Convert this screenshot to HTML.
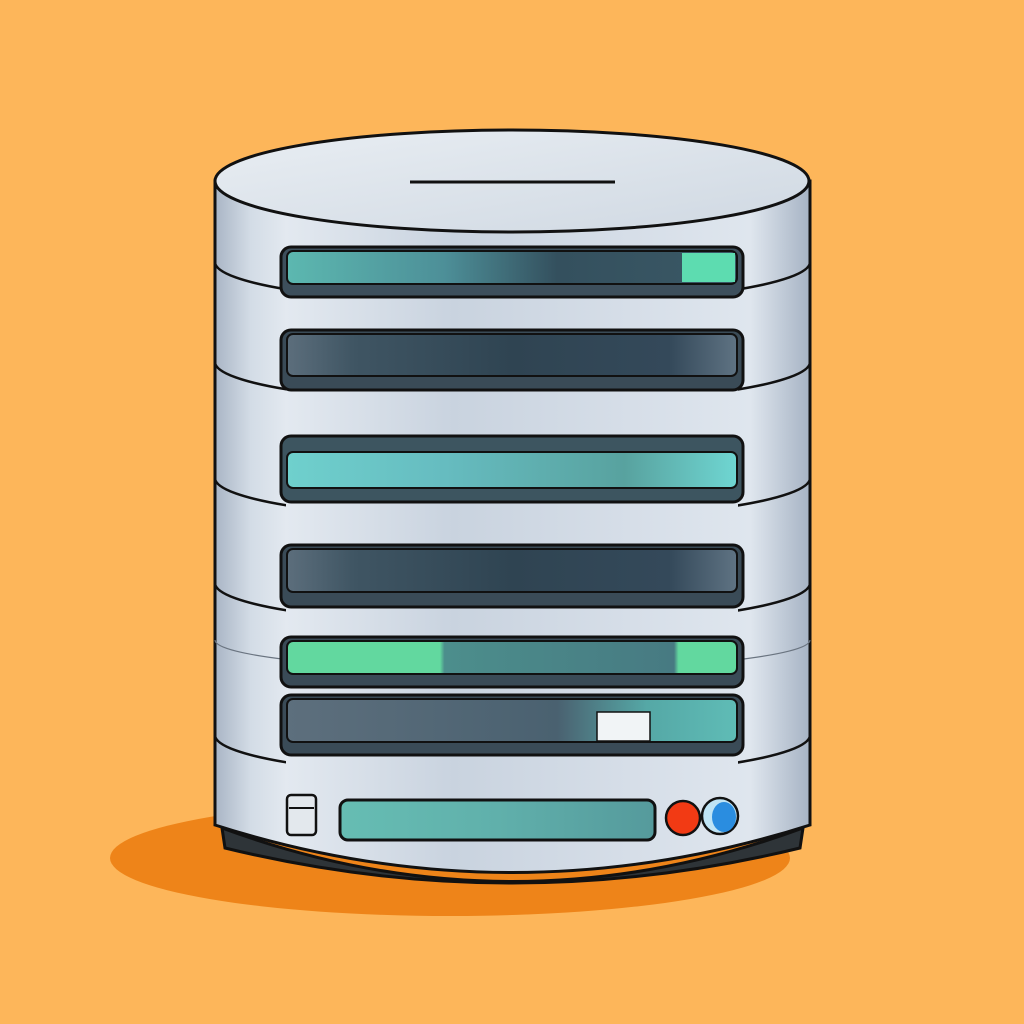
<!DOCTYPE html>
<html><head><meta charset="utf-8"><style>html,body{margin:0;padding:0;background:#FDB65A}svg{display:block}</style></head>
<body>
<svg width="1024" height="1024" viewBox="0 0 1024 1024" xmlns="http://www.w3.org/2000/svg">
<defs>
<linearGradient id="body" x1="0" x2="1" y1="0" y2="0">
<stop offset="0" stop-color="#a9b5c5"/><stop offset="0.06" stop-color="#d3dce6"/><stop offset="0.12" stop-color="#e3e9f0"/>
<stop offset="0.4" stop-color="#c9d3df"/><stop offset="0.7" stop-color="#d6dee8"/><stop offset="0.9" stop-color="#dfe6ee"/><stop offset="1" stop-color="#a6b3c4"/>
</linearGradient>
<linearGradient id="top" x1="0" x2="1" y1="0" y2="1"><stop offset="0" stop-color="#e9eef3"/><stop offset="1" stop-color="#cfd8e2"/></linearGradient>
<linearGradient id="teal1" x1="0" x2="1"><stop offset="0" stop-color="#5cb8b0"/><stop offset="0.35" stop-color="#4d8f98"/><stop offset="0.6" stop-color="#34505e"/><stop offset="1" stop-color="#3a5865"/></linearGradient>
<linearGradient id="dark" x1="0" x2="1"><stop offset="0" stop-color="#5c6e7c"/><stop offset="0.15" stop-color="#3f5563"/><stop offset="0.5" stop-color="#2f4452"/><stop offset="0.85" stop-color="#34495a"/><stop offset="1" stop-color="#5f7383"/></linearGradient>
<linearGradient id="teal3" x1="0" x2="1"><stop offset="0" stop-color="#6fd0cd"/><stop offset="0.35" stop-color="#66bcc0"/><stop offset="0.75" stop-color="#58a29f"/><stop offset="1" stop-color="#6fd6d2"/></linearGradient>
<linearGradient id="green5" x1="0" x2="1"><stop offset="0" stop-color="#62d89f"/><stop offset="0.34" stop-color="#62d89f"/><stop offset="0.35" stop-color="#4c8e8c"/><stop offset="0.86" stop-color="#477a82"/><stop offset="0.87" stop-color="#62d89f"/><stop offset="1" stop-color="#62d89f"/></linearGradient>
<linearGradient id="dark6" x1="0" x2="1"><stop offset="0" stop-color="#5d6f7d"/><stop offset="0.6" stop-color="#4a6170"/><stop offset="0.8" stop-color="#55a8a6"/><stop offset="1" stop-color="#5fbcb6"/></linearGradient>
<linearGradient id="bar" x1="0" x2="1"><stop offset="0" stop-color="#66bdb3"/><stop offset="0.5" stop-color="#60b0ab"/><stop offset="1" stop-color="#559a9c"/></linearGradient>
<clipPath id="sides"><rect x="0" y="0" width="286" height="1024"/><rect x="738" y="0" width="300" height="1024"/></clipPath>
</defs>
<rect width="1024" height="1024" fill="#FDB65A"/>
<ellipse cx="450" cy="858" rx="340" ry="58" fill="#EE8419"/>
<!-- base -->
<path d="M222,828 Q512,935 803,828 L800,848 Q512,918 225,848 Z" fill="#2e3438" stroke="#111" stroke-width="3"/>
<!-- body -->
<path d="M215,181 L215,825 Q512,920 810,825 L810,181 Z" fill="url(#body)" stroke="#111" stroke-width="3"/>
<!-- separators -->
<g fill="none" stroke="#111" stroke-width="2.5" clip-path="url(#sides)">
<path d="M215,262 A297,42 0 0 0 810,262"/>
<path d="M215,362 A297,42 0 0 0 810,362"/>
<path d="M215,478 A297,42 0 0 0 810,478"/>
<path d="M215,583 A297,42 0 0 0 810,583"/>
<path d="M215,640 A297,30 0 0 0 810,640" stroke-width="1.2" stroke="#6a7480"/>
<path d="M215,735 A297,42 0 0 0 810,735"/>
</g>
<!-- top -->
<ellipse cx="512" cy="181" rx="297" ry="51" fill="url(#top)" stroke="#111" stroke-width="3"/>
<path d="M410,182 L615,182" stroke="#111" stroke-width="3"/>
<!-- slots -->
<g stroke="#111" stroke-width="3">
<rect x="281" y="247" width="462" height="50" rx="10" fill="#3d4f5c"/>
<rect x="287" y="251" width="450" height="33" rx="6" fill="url(#teal1)" stroke-width="2"/>
<rect x="682" y="253" width="53" height="29" fill="#5ddcb0" stroke="none"/>
<rect x="281" y="330" width="462" height="60" rx="10" fill="#3a4b57"/>
<rect x="287" y="334" width="450" height="42" rx="6" fill="url(#dark)" stroke-width="2"/>
<rect x="281" y="436" width="462" height="66" rx="10" fill="#3d5560"/>
<rect x="287" y="452" width="450" height="36" rx="6" fill="url(#teal3)" stroke-width="2"/>
<rect x="281" y="545" width="462" height="62" rx="10" fill="#3a4b57"/>
<rect x="287" y="549" width="450" height="43" rx="6" fill="url(#dark)" stroke-width="2"/>
<rect x="281" y="637" width="462" height="50" rx="10" fill="#3a4b57"/>
<rect x="287" y="641" width="450" height="33" rx="6" fill="url(#green5)" stroke-width="2"/>
<rect x="281" y="695" width="462" height="60" rx="10" fill="#3a4b57"/>
<rect x="287" y="699" width="450" height="43" rx="6" fill="url(#dark6)" stroke-width="2"/>
<rect x="597" y="712" width="53" height="29" fill="#f1f4f6" stroke-width="1.5"/>
<!-- bottom panel -->
<rect x="287" y="795" width="29" height="40" rx="4" fill="#e3e8ed" stroke-width="2.5"/>
<line x1="289" y1="808" x2="314" y2="808" stroke-width="2"/>
<rect x="340" y="800" width="315" height="40" rx="8" fill="url(#bar)"/>
<circle cx="683" cy="818" r="17" fill="#f23a14" stroke-width="2.5"/>
<circle cx="720" cy="816" r="18" fill="#bfe4f5" stroke-width="2.5"/>
<ellipse cx="724" cy="817" rx="12" ry="15" fill="#2a8de0" stroke="none"/>
</g>
</svg>
</body></html>
